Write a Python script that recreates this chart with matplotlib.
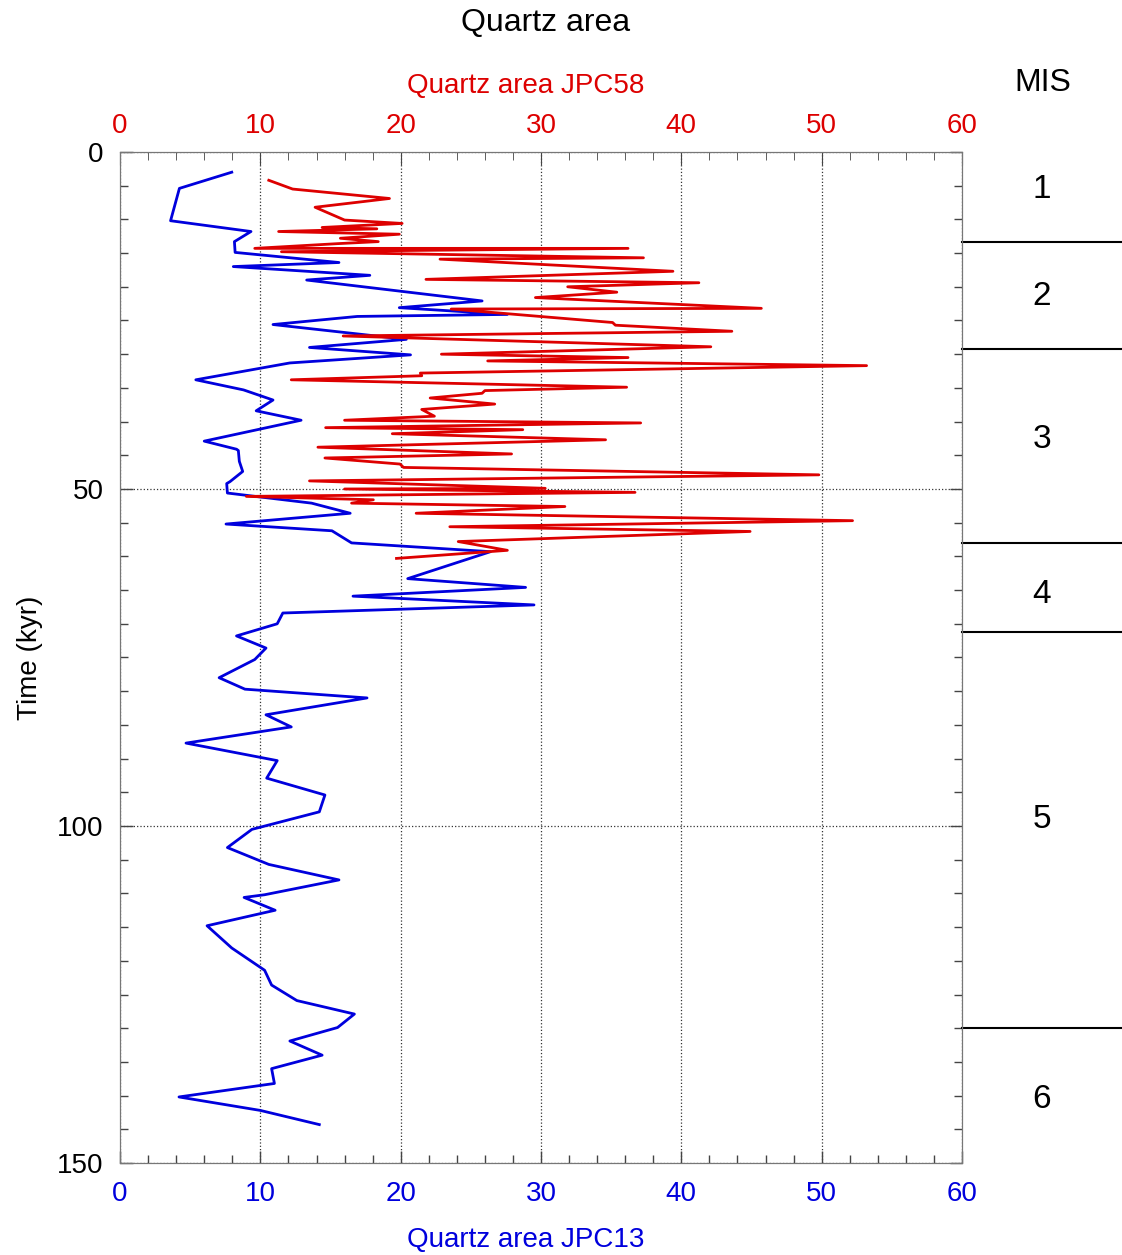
import matplotlib
matplotlib.use('Agg')
import matplotlib.pyplot as plt
from matplotlib.ticker import MultipleLocator

plt.rcParams['font.family'] = ['Liberation Sans', 'DejaVu Sans']

# JPC13 (blue, bottom axis)
jpc13_time = [3.0, 5.4, 10.2, 11.8, 13.3, 14.9, 16.4, 17.0, 18.3, 19.0,
              22.1, 23.1, 24.1, 24.4, 25.6, 27.8, 29.0, 30.1, 31.3, 33.8,
              35.3, 36.8, 38.4, 39.8, 42.9, 44.1, 44.3, 45.9, 47.4, 48.9,
              49.2, 50.6, 52.1, 53.6, 55.2, 56.2, 58.0, 59.3, 63.3, 64.6,
              65.9, 67.2, 68.4, 70.0, 71.8, 73.6, 75.3, 78.0, 79.7, 81.0,
              83.5, 85.3, 87.7, 90.3, 92.9, 95.4, 97.9, 100.5, 103.2, 105.7,
              108.0, 110.2, 110.6, 112.5, 114.8, 118.1, 121.4, 123.6, 125.9, 127.9,
              129.9, 131.9, 134.0, 136.0, 138.2, 140.2, 142.2, 144.3]
jpc13_area = [7.96, 4.23, 3.6, 9.33, 8.15, 8.2, 15.6, 8.07, 17.8, 13.3,
              25.8, 19.9, 27.6, 16.9, 10.9, 20.4, 13.5, 20.7, 12.1, 5.4,
              8.8, 10.9, 9.7, 12.9, 6.0, 8.3, 8.43, 8.5, 8.74, 7.84,
              7.6, 7.65, 13.65, 16.4, 7.55, 15.1, 16.5, 26.4, 20.5, 28.9,
              16.6, 29.5, 11.6, 11.2, 8.3, 10.4, 9.6, 7.06, 8.9, 17.6,
              10.4, 12.2, 4.7, 11.2, 10.45, 14.6, 14.2, 9.4, 7.65, 10.6,
              15.6, 10.3, 8.84, 11.05, 6.2, 7.96, 10.3, 10.8, 12.6, 16.7,
              15.5, 12.1, 14.4, 10.8, 11.0, 4.2, 10.0, 14.2]

# JPC58 (red, top axis)
jpc58_time = [4.2, 5.5, 6.9, 8.2, 10.1, 10.6, 11.2, 11.4, 11.8, 12.2,
              12.8, 13.3, 13.6, 14.3, 14.3, 14.8, 15.7, 15.9, 17.7, 18.9,
              19.4, 20.0, 20.8, 21.6, 23.2, 23.3, 25.3, 25.7, 26.6, 27.3,
              28.9, 30.0, 30.5, 31.0, 31.7, 32.8, 33.2, 33.8, 34.9, 35.4,
              35.8, 36.5, 37.4, 38.2, 39.2, 39.8, 40.2, 40.9, 41.2, 41.8,
              42.7, 43.8, 44.8, 45.4, 46.3, 46.8, 47.9, 48.8, 49.9, 50.0,
              50.5, 51.1, 51.6, 52.1, 52.6, 53.6, 54.7, 55.6, 56.3, 57.8,
              59.1, 60.3]
jpc58_area = [10.6, 12.3, 19.2, 13.9, 16.0, 20.1, 14.4, 18.3, 11.3, 19.9,
              15.7, 18.4, 15.5, 9.6, 36.2, 11.5, 37.3, 22.8, 39.4, 21.8,
              41.25, 31.9, 35.4, 29.6, 45.7, 23.6, 35.1, 35.3, 43.6, 15.9,
              42.1, 22.9, 36.2, 26.2, 53.2, 21.4, 21.5, 12.2, 36.1, 26.0,
              25.8, 22.1, 26.7, 21.5, 22.4, 16.0, 37.1, 14.65, 28.7, 19.4,
              34.6, 14.1, 27.9, 14.6, 19.95, 20.2, 49.8, 13.5, 30.3, 16.0,
              36.7, 9.0, 18.05, 16.5, 31.7, 21.1, 52.2, 23.5, 44.9, 24.1,
              27.6, 19.7]

# marine isotope stages
mis_bounds = [13.4, 29.2, 58.0, 71.2, 130.0]
mis_names = ['1', '2', '3', '4', '5', '6']
mis_label_pos = [5.6, 21.4, 42.7, 65.6, 99.0, 140.6]

blue = '#0000DD'
red = '#DD0000'
FS = 20

fig = plt.figure(figsize=(11.22, 12.55), dpi=100)
ax = fig.add_axes([0.107, 0.0733, 0.7504, 0.8056])

ax.plot(jpc13_area, jpc13_time, color=blue, lw=2.0, zorder=3)
ax.set_xlim(0, 60)
ax.set_ylim(150, 0)

ax2 = ax.twiny()
ax2.plot(jpc58_area, jpc58_time, color=red, lw=2.0, zorder=3)
ax2.set_xlim(0, 60)
ax2.set_ylim(150, 0)

for a in (ax, ax2):
    a.xaxis.set_major_locator(MultipleLocator(10))
    a.xaxis.set_minor_locator(MultipleLocator(2))
ax.yaxis.set_major_locator(MultipleLocator(50))
ax.yaxis.set_minor_locator(MultipleLocator(5))

ax.tick_params(axis='both', which='both', direction='in', top=False, right=True,
               labelsize=FS, color='#444444')
ax.tick_params(which='major', length=9, width=1)
ax.tick_params(which='minor', length=6, width=1)
ax.tick_params(axis='x', labelcolor=blue, pad=13)
ax.tick_params(axis='y', pad=12)
ax2.tick_params(axis='x', which='both', direction='in', labelsize=FS,
                labelcolor=red, color='#444444', pad=9)
ax2.tick_params(axis='x', which='major', length=9)
ax2.tick_params(axis='x', which='minor', length=6)

ax.grid(True, which='major', linestyle=':', color='#333333', lw=0.9)

for s in ax.spines.values():
    s.set_color('#777777')
for s in ax2.spines.values():
    s.set_color('#777777')

ax.set_xlabel('Quartz area JPC13', color=blue, fontsize=FS, labelpad=14)
ax2.set_xlabel('Quartz area JPC58', color=red, fontsize=FS, labelpad=15)
ax.xaxis.label.set_x(0.482)
ax2.xaxis.label.set_x(0.482)
ax.set_ylabel('Time (kyr)', fontsize=FS, labelpad=10)
fig.text(0.486, 0.982, 'Quartz area', fontsize=23, ha='center', va='center')

# MIS column to the right of the plot
trans = ax.get_yaxis_transform()
for b in mis_bounds:
    ax.plot([1.0, 1.2], [b, b], color='black', lw=1.5, transform=trans, clip_on=False)
for name, p in zip(mis_names, mis_label_pos):
    ax.text(1.095, p, name, transform=trans, fontsize=24, ha='center', va='center')
fig.text(0.929, 0.934, 'MIS', fontsize=23, ha='center', va='center')

plt.savefig('out.png', dpi=100)
